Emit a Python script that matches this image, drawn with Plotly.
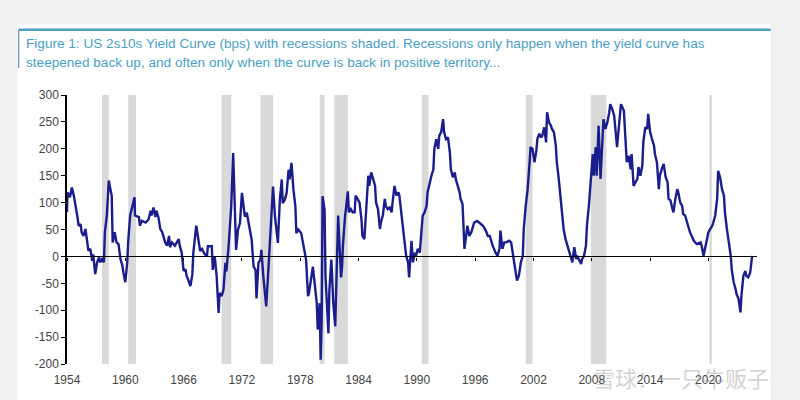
import plotly.graph_objects as go

# ---- data ----
years = [1954.0, 1954.05, 1954.3, 1954.5, 1954.7, 1954.9, 1955.05, 1955.2, 1955.4, 1955.5, 1955.7, 1955.9,
         1956.05, 1956.2, 1956.4, 1956.6, 1956.7, 1956.9, 1957.1, 1957.3, 1957.4, 1957.6, 1957.8, 1957.9,
         1958.1, 1958.3, 1958.4, 1958.6, 1958.7, 1958.9, 1959.1, 1959.3, 1959.5, 1959.7, 1959.8, 1960.0,
         1960.2, 1960.3, 1960.5, 1960.7, 1960.95, 1961.0, 1961.4, 1961.5, 1961.7, 1962.1, 1962.4, 1962.6,
         1962.7, 1962.9, 1963.1, 1963.2, 1963.4, 1963.6, 1963.8, 1964.1, 1964.3, 1964.5, 1964.6, 1964.8,
         1965.1, 1965.5, 1965.6, 1965.8, 1966.0, 1966.2, 1966.3, 1966.5, 1966.7, 1966.9, 1967.0, 1967.3,
         1967.5, 1967.7, 1967.9, 1968.1, 1968.4, 1968.5, 1968.9, 1969.0, 1969.2, 1969.4, 1969.6, 1969.7,
         1969.9, 1970.1, 1970.3, 1970.4, 1970.6, 1970.8, 1970.9, 1971.1, 1971.3, 1971.4, 1971.6, 1971.8,
         1972.0, 1972.1, 1972.3, 1972.5, 1972.7, 1972.8, 1973.0, 1973.2, 1973.4, 1973.5, 1973.7, 1973.9,
         1974.0, 1974.2, 1974.4, 1974.5, 1974.7, 1974.9, 1975.1, 1975.2, 1975.4, 1975.6, 1975.7, 1975.9,
         1976.1, 1976.2, 1976.4, 1976.6, 1976.8, 1976.9, 1977.1, 1977.3, 1977.5, 1977.6, 1977.8, 1978.1,
         1978.3, 1978.6, 1978.8, 1978.9, 1979.3, 1979.5, 1979.7, 1979.8, 1980.0, 1980.1, 1980.2, 1980.3,
         1980.5, 1980.6, 1980.9, 1981.0, 1981.2, 1981.4, 1981.6, 1981.7, 1981.9, 1982.2, 1982.3, 1982.4,
         1982.6, 1982.9, 1983.0, 1983.2, 1983.4, 1983.6, 1983.7, 1983.9, 1984.1, 1984.3, 1984.4, 1984.6,
         1984.8, 1985.0, 1985.1, 1985.3, 1985.5, 1985.7, 1985.8, 1986.0, 1986.2, 1986.3, 1986.5, 1986.7,
         1986.8, 1987.0, 1987.2, 1987.4, 1987.5, 1987.7, 1987.9, 1988.1, 1988.2, 1988.4, 1988.6, 1988.7,
         1988.9, 1989.1, 1989.2, 1989.3, 1989.45, 1989.6, 1989.8, 1989.9, 1990.1, 1990.3, 1990.4, 1990.6,
         1990.8, 1991.0, 1991.1, 1991.3, 1991.5, 1991.7, 1991.8, 1992.0, 1992.2, 1992.3, 1992.5, 1992.7,
         1992.8, 1993.0, 1993.2, 1993.4, 1993.5, 1993.7, 1993.9, 1994.0, 1994.2, 1994.4, 1994.5, 1994.7,
         1994.9, 1995.1, 1995.2, 1995.4, 1995.6, 1995.9, 1996.2, 1996.4, 1996.8, 1997.1, 1997.3, 1997.5,
         1997.8, 1998.1, 1998.3, 1998.5, 1998.6, 1998.8, 1999.0, 1999.2, 1999.5, 1999.7, 1999.8, 2000.0,
         2000.2, 2000.3, 2000.5, 2000.7, 2000.9, 2001.0, 2001.2, 2001.4, 2001.6, 2001.7, 2001.9, 2002.1,
         2002.3, 2002.4, 2002.6, 2002.8, 2002.9, 2003.1, 2003.3, 2003.4, 2003.6, 2003.8, 2003.9, 2004.1,
         2004.3, 2004.4, 2004.6, 2004.8, 2005.0, 2005.1, 2005.3, 2005.5, 2005.7, 2005.8, 2006.0, 2006.2,
         2006.4, 2006.5, 2006.7, 2006.9, 2007.0, 2007.2, 2007.4, 2007.5, 2007.7, 2007.9, 2008.1, 2008.2,
         2008.4, 2008.5, 2008.7, 2008.9, 2009.1, 2009.2, 2009.4, 2009.6, 2009.8, 2009.9, 2010.1, 2010.3,
         2010.6, 2011.0, 2011.3, 2011.6, 2011.8, 2012.0, 2012.1, 2012.3, 2012.5, 2012.7, 2012.8, 2013.0,
         2013.2, 2013.3, 2013.5, 2013.7, 2013.8, 2014.0, 2014.2, 2014.4, 2014.5, 2014.7, 2014.9, 2015.0,
         2015.2, 2015.4, 2015.6, 2015.8, 2015.9, 2016.1, 2016.3, 2016.4, 2016.6, 2016.8, 2016.9, 2017.1,
         2017.3, 2017.4, 2017.6, 2017.8, 2017.9, 2018.1, 2018.5, 2018.8, 2019.2, 2019.3, 2019.5, 2019.7,
         2019.9, 2020.0, 2020.2, 2020.4, 2020.5, 2020.7, 2020.9, 2021.0, 2021.2, 2021.4, 2021.6, 2021.7,
         2021.9, 2022.1, 2022.3, 2022.4, 2022.6, 2022.8, 2022.9, 2023.1, 2023.3, 2023.4, 2023.6, 2023.8,
         2023.9, 2024.1, 2024.3, 2024.5]

spread_bps = [82, 119, 110, 128, 113, 94, 76, 57, 60, 45, 38, 51,
              26, 11, 14, -8, 4, -33, -11, -2, -11, -5, -11, 45,
              76, 141, 131, 113, 26, 45, 26, 23, -5, -17, -30, -48,
              -11, 29, 76, 94, 110, 76, 73, 57, 66, 63, 69, 85,
              76, 91, 73, 85, 73, 51, 45, 26, 20, 38, 17, 26,
              20, 32, 20, 7, -27, -24, -36, -45, -55, -33, 7, 57,
              32, 10, 14, 6, 0, 19, 19, -25, 0, -37, -105, -68,
              -74, -62, -12, -28, 12, 62, 93, 192, 93, 12, 50, 62,
              118, 105, 74, 81, 62, 56, 31, -19, -25, -78, -12, -6,
              12, -37, -74, -93, -31, 31, 81, 130, 74, 37, 25, 105,
              143, 99, 105, 118, 161, 143, 174, 124, 93, 43, 50, 43,
              25, -6, -74, -68, -19, -56, -87, -136, -87, -192, -124, 112,
              87, -37, -143, -62, -6, -87, -130, -62, 76, -39, -20, 22,
              72, 121, 82, 88, 82, 82, 113, 107, 100, 69, 38, 32,
              94, 150, 131, 156, 144, 131, 100, 88, 51, 63, 76, 107,
              94, 88, 91, 82, 100, 131, 113, 119, 113, 76, 51, 32,
              1, -11, -39, -11, 29, -11, 7, 1, 14, 7, 38, 76,
              82, 94, 119, 138, 150, 162, 200, 218, 200, 224, 231, 255,
              231, 218, 221, 193, 162, 147, 156, 144, 131, 119, 107, 97,
              14, 45, 57, 38, 45, 63, 66, 63, 57, 48, 38, 38,
              20, 7, 1, 14, 48, 14, 26, 26, 29, 26, 14, -11,
              -42, -45, -36, -11, 1, 51, 94, 125, 175, 203, 200, 175,
              197, 218, 228, 221, 224, 240, 212, 268, 249, 243, 237, 231,
              206, 175, 144, 107, 76, 51, 32, 20, 7, 1, -11, 17,
              -5, 1, -8, -14, -5, 1, 20, 57, 94, 138, 190, 150,
              203, 150, 243, 144, 206, 255, 237, 249, 268, 283, 274, 262,
              203, 283, 271, 175, 187, 162, 190, 131, 138, 144, 166, 150,
              169, 212, 240, 237, 265, 231, 218, 206, 190, 175, 125, 150,
              162, 172, 147, 138, 107, 104, 88, 82, 107, 125, 119, 100,
              94, 79, 76, 63, 60, 45, 29, 23, 26, 20, 1, 20,
              35, 45, 51, 57, 63, 76, 107, 159, 147, 125, 113, 82,
              51, 26, 1, -24, -48, -61, -70, -79, -104, -73, -36, -27,
              -36, -39, -30, 1]

recession_start = [1957.6, 1960.3, 1969.9, 1973.9, 1980.0, 1981.5, 1990.5, 2001.2, 2007.9, 2020.1]
recession_end = [1958.3, 1961.1, 1970.9, 1975.2, 1980.5, 1982.9, 1991.2, 2001.9, 2009.5, 2020.35]

x_ticks = list(range(1954, 2021, 6))
y_ticks = list(range(-200, 301, 50))
y_tick_labels = [str(v) for v in y_ticks]   # plain hyphen, as in the reference

title_lines = ["Figure 1: US 2s10s Yield Curve (bps) with recessions shaded. Recessions only happen when the yield curve has",
               "steepened back up, and often only when the curve is back in positive territory..."]

FONT = "Liberation Sans, Arial, sans-serif"

fig = go.Figure()
fig.add_trace(go.Scatter(x=years, y=spread_bps, mode="lines",
                         line=dict(color="#1a1d8c", width=2.4), xaxis="x", yaxis="y",
                         showlegend=False, hoverinfo="x+y"))
fig.add_trace(go.Scatter(x=[], y=[], xaxis="x2", yaxis="y", showlegend=False))

shapes = []
# white panel and frame decoration
shapes.append(dict(type="rect", xref="paper", yref="paper", x0=-0.072, x1=1.02, y0=-0.16, y1=1.265,
                   fillcolor="white", line=dict(width=0), layer="below"))
shapes.append(dict(type="line", xref="paper", yref="paper", x0=-0.07, x1=1.02, y0=1.243, y1=1.243,
                   line=dict(color="#4d9fc4", width=2.5), layer="below"))
shapes.append(dict(type="line", xref="paper", yref="paper", x0=-0.07, x1=-0.07, y0=1.243, y1=1.10,
                   line=dict(color="#5f8fa8", width=1.2), layer="below"))
for s, e in zip(recession_start, recession_end):
    shapes.append(dict(type="rect", xref="x", yref="y domain", x0=s, x1=e, y0=0, y1=1,
                       fillcolor="#d9d9d9", line=dict(width=0), layer="below"))

annotations = []
for i, t in enumerate(title_lines):
    annotations.append(dict(text=t, xref="paper", yref="paper", x=-0.062, y=1.19 - i * 0.068,
                            xanchor="left", yanchor="middle", showarrow=False,
                            font=dict(family=FONT, size=13.6, color="#4aa0c6")))
annotations.append(dict(text="雪球：一只牛贩子", xref="paper", yref="paper", x=0.76, y=-0.05,
                        xanchor="left", yanchor="middle", showarrow=False,
                        font=dict(family="Noto Sans CJK SC", size=22, color="rgba(140,140,140,0.4)")))

fig.update_layout(
    width=800, height=400,
    margin=dict(l=67, r=43, t=95, b=36),
    paper_bgcolor="#eff1f3", plot_bgcolor="rgba(0,0,0,0)",
    shapes=shapes, annotations=annotations,
    xaxis=dict(range=[1954, 2025], anchor="free", position=0.4, showline=True,
               linecolor="black", linewidth=1.2, ticks="outside", ticklen=3, tickcolor="black",
               tickvals=x_ticks, showticklabels=False, showgrid=False, zeroline=False),
    xaxis2=dict(matches="x", overlaying="x", anchor="y", side="bottom", showline=False,
                tickvals=x_ticks, ticktext=[str(v) for v in x_ticks], ticks="",
                ticklabelstandoff=7, showgrid=False, zeroline=False,
                tickfont=dict(family=FONT, size=12, color="#444")),
    yaxis=dict(range=[-200, 300], tickvals=y_ticks, ticktext=y_tick_labels, showline=True,
               linecolor="black", linewidth=1.5, ticks="outside", ticklen=4, tickcolor="black",
               showgrid=False, zeroline=False,
               tickfont=dict(family=FONT, size=12, color="#444")),
)

fig.write_html("out.html", config={"displayModeBar": False},
               post_script="document.body.style.margin='0';")
